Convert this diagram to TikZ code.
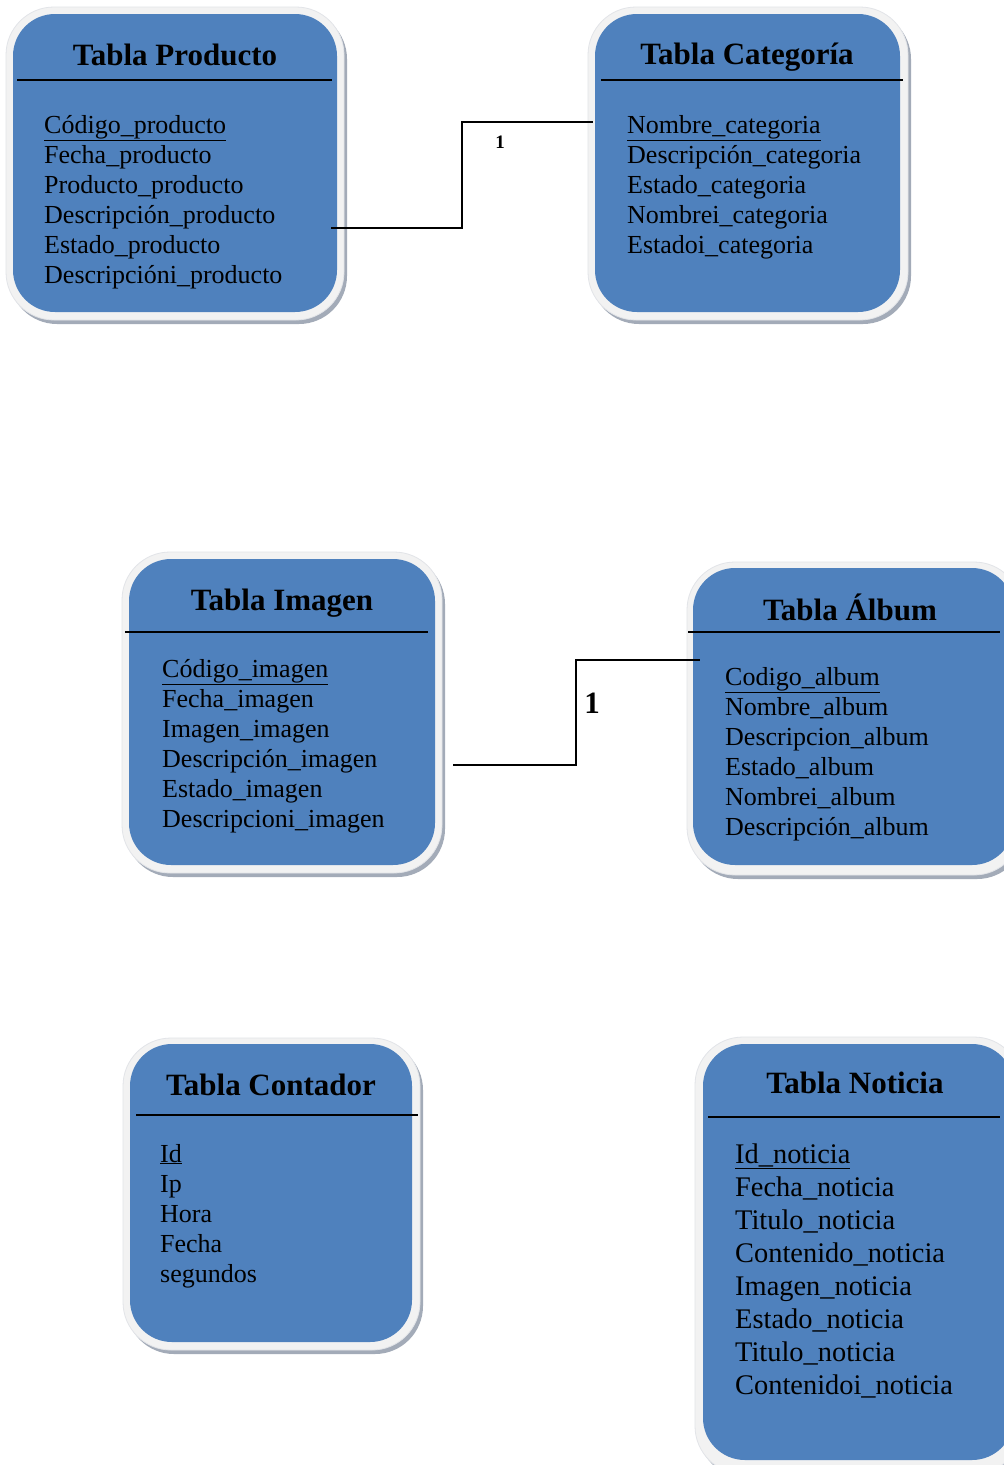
\documentclass[tikz,border=0pt]{standalone}
\usepackage{fontspec}
\setmainfont{Liberation Serif}
\definecolor{boxblue}{HTML}{4F81BD}
\definecolor{bandgray}{HTML}{F2F2F2}
\definecolor{bandedge}{HTML}{E2E4E8}
\definecolor{shadowc}{HTML}{A3ABB8}
\tikzset{
  shadowbox/.style={fill=shadowc, rounded corners=48pt},
  bandbox/.style={fill=bandgray, draw=bandedge, line width=0.8pt, rounded corners=48pt},
  bluebox/.style={fill=boxblue, rounded corners=42pt},
  headline/.style={line width=2pt, black},
  ttl/.style={font=\fontsize{31}{36}\selectfont\bfseries, inner sep=0pt, anchor=base},
  field/.style={font=\fontsize{26}{30}\selectfont, inner sep=0pt, anchor=base west},
  fieldbig/.style={font=\fontsize{28.4}{33}\selectfont, inner sep=0pt, anchor=base west},
  conn/.style={line width=2pt, black},
  card/.style={font=\fontsize{19}{22}\selectfont\bfseries, inner sep=0pt, anchor=base},
  cardbig/.style={font=\fontsize{31}{36}\selectfont\bfseries, inner sep=0pt, anchor=base},
}
\newcommand\erframe[8]{% x1 y1 x2 y2 (outer), bx1 by1 bx2 by2 (blue)
  \fill[shadowbox] (#1+3,#2+4) rectangle (#3+3,#4+4);
  \filldraw[bandbox] (#1,#2) rectangle (#3,#4);
  \fill[bluebox] (#5,#6) rectangle (#7,#8);
}
\begin{document}
\begin{tikzpicture}[x=1pt,y=-1pt]
\useasboundingbox (0,0) rectangle (1004,1465);
\fill[white] (0,0) rectangle (1004,1465);

% ---------- Tabla Producto ----------
\erframe{6}{7}{344}{320}{13}{14}{337}{312}
\draw[headline] (17,80) -- (332,80);
\node[ttl] (prodT) at (175,65) {Tabla Producto};
\foreach \t [count=\i] in {\underline{Código\_producto},Fecha\_producto,Producto\_producto,Descripción\_producto,Estado\_producto,Descripcióni\_producto}
  \node[field] (prod\i) at (44,133+30*\i-30) {\t};

% ---------- Tabla Categoría ----------
\erframe{588}{7}{908}{320}{595}{14}{900}{312}
\draw[headline] (601,80) -- (903,80);
\node[ttl] (catT) at (747,64) {Tabla Categoría};
\foreach \t [count=\i] in {\underline{Nombre\_categoria},Descripción\_categoria,Estado\_categoria,Nombrei\_categoria,Estadoi\_categoria}
  \node[field] (cat\i) at (627,133+30*\i-30) {\t};

% ---------- Tabla Imagen ----------
\erframe{122}{552}{442}{873}{129}{559}{435}{865}
\draw[headline] (125,632) -- (428,632);
\node[ttl] (imgT) at (282,610) {Tabla Imagen};
\foreach \t [count=\i] in {\underline{Código\_imagen},Fecha\_imagen,Imagen\_imagen,Descripción\_imagen,Estado\_imagen,Descripcioni\_imagen}
  \node[field] (img\i) at (162,677+30*\i-30) {\t};

% ---------- Tabla Álbum ----------
\erframe{687}{562}{1022}{875}{693}{568}{1014}{865}
\draw[headline] (688,632) -- (1000,632);
\node[ttl] (albT) at (850,620) {Tabla Álbum};
\foreach \t [count=\i] in {\underline{Codigo\_album},Nombre\_album,Descripcion\_album,Estado\_album,Nombrei\_album,Descripción\_album}
  \node[field] (alb\i) at (725,685+30*\i-30) {\t};

% ---------- Tabla Contador ----------
\erframe{123}{1038}{420}{1350}{130}{1044}{412}{1342}
\draw[headline] (136,1115) -- (418,1115);
\node[ttl] (conT) at (271,1095) {Tabla Contador};
\foreach \t [count=\i] in {\underline{Id},Ip,Hora,Fecha,segundos}
  \node[field] (con\i) at (160,1162+30*\i-30) {\t};

% ---------- Tabla Noticia ----------
\erframe{695}{1037}{1022}{1474}{703}{1044}{1014}{1460}
\draw[headline] (708,1117) -- (1000,1117);
\node[ttl] (notT) at (855,1093) {Tabla Noticia};
\foreach \t [count=\i] in {\underline{Id\_noticia},Fecha\_noticia,Titulo\_noticia,Contenido\_noticia,Imagen\_noticia,Estado\_noticia,Titulo\_noticia,Contenidoi\_noticia}
  \node[fieldbig] (not\i) at (735,1163+33*\i-33) {\t};

% ---------- Connectors ----------
\coordinate (c1a) at (331,228);
\coordinate (c1b) at (593,122);
\draw[conn] (c1a) -- (462,228) |- (c1b);
\node[card] (c1lab) at (500,148) {1};

\coordinate (c2a) at (453,765);
\coordinate (c2b) at (700,660);
\draw[conn] (c2a) -- (576,765) |- (c2b);
\node[cardbig] (c2lab) at (592,713) {1};
\end{tikzpicture}
\end{document}
